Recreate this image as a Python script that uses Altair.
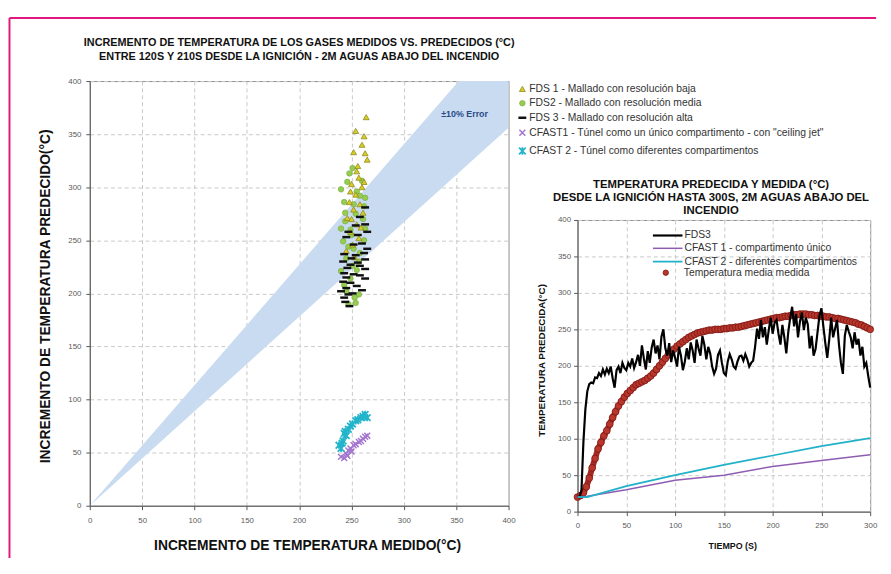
import altair as alt
import pandas as pd

FONT = "Liberation Sans"
MAGENTA = "#e2177f"
GRID = "#c8c8c8"
AXIS = "#555555"
LABEL = "#5a5a5a"

# ---------------- left chart: measured vs predicted (120 s - 210 s) ----------------
scatter_names = [
    "FDS 1 - Mallado con resolución baja",
    "FDS2 - Mallado con resolución media",
    "FDS 3 - Mallado con resolución alta",
    'CFAST1 - Túnel como un único compartimento - con "ceiling jet"',
    "CFAST 2 - Túnel como diferentes compartimentos",
]
scatter_fill = ["#d8cd22", "#98cc50", "#111111", "#a375cf", "#22b4ca"]
scatter_stroke = ["#8d8a22", "#72aa3c", "#111111", "#a375cf", "#22b4ca"]
scatter_shape = ["triangle-up", "circle", "stroke",
                 "M-1,-1L1,1M-1,1L1,-1",
                 "M-1,-1L1,1M-1,1L1,-1M0,-1.1L0,1.1"]
scatter_size = [36, 32, 64, 36, 45]
scatter_sw = [0.8, 0.6, 2.5, 1.5, 1.8]

fds1_x = [264, 254, 262, 252, 263, 256, 265, 257, 250, 260, 254, 248, 258, 252, 261, 246, 255, 249,
          257, 251, 245, 253, 260, 255, 262, 249, 259, 250]
fds1_y = [366, 353, 348, 333, 332, 320, 326, 309, 303, 300, 293, 286, 284, 279, 276, 271, 265, 258,
          252, 246, 240, 234, 340, 315, 305, 296, 262, 270]

fds2_x = [248, 260, 240, 263, 243, 254, 261, 240, 249, 263, 242, 252, 258, 245, 257, 240, 249, 245,
          257, 254, 247, 251, 244, 262, 255, 250, 251, 246, 258, 252, 244, 262, 247, 255, 243, 253]
fds2_y = [313, 306, 298, 290, 286, 275, 270, 261, 260, 261, 249, 242, 238, 233, 230, 221, 214, 202,
          199, 191, 190, 226, 268, 282, 296, 255, 318, 305, 292, 284, 276, 250, 244, 222, 208, 196]

fds3_x = [263, 263, 254, 265, 256, 245, 260, 252, 265, 243, 254, 263, 242, 249, 263, 243, 252, 263,
          242, 249, 245, 240, 251, 243, 248, 258, 258, 247, 262, 250, 256, 246, 258, 245, 255, 260,
          247, 244]
fds3_y = [281, 265, 264, 258, 255, 253, 247, 246, 242, 237, 236, 232, 230, 227, 223, 219, 218, 214,
          211, 210, 205, 202, 200, 196, 188, 226, 272, 258, 238, 233, 229, 224, 217, 215, 207, 203,
          199, 192]

cf1_x = [240, 243, 245, 247, 249, 252, 254, 257, 259, 261, 263, 265, 246, 250]
cf1_y = [46, 45, 49, 52, 54, 57, 58, 60, 61, 63, 65, 66, 47, 51]

cf2_x = [238, 240, 242, 243, 245, 247, 249, 251, 254, 256, 259, 261, 263, 265, 241, 244]
cf2_y = [57, 54, 61, 68, 66, 72, 75, 77, 80, 81, 83, 84, 86, 83, 59, 70]

# +/-10 % error band (read at the two ends)
band_x = [0, 400]
band_lo = [0, 356]
band_hi = [0, 454]

# ---------------- right chart: temperature vs time ----------------
line_names = ["FDS3", "CFAST 1 - compartimento único", "CFAST 2 - diferentes compartimentos"]
line_colors = ["#000000", "#8e5db3", "#21b1c8"]
line_widths = [2.2, 1.5, 1.8]
meas_name = "Temperatura media medida"

fds3_t = list(range(0, 301, 2))
fds3_T = [20, 21, 28, 95, 140, 165, 175, 177, 176, 184,
          183, 190, 186, 195, 188, 196, 190, 199, 183, 170,
          194, 199, 190, 204, 197, 194, 204, 199, 210, 197,
          205, 215, 200, 228, 210, 195, 220, 204, 225, 236,
          217, 228, 209, 240, 250, 224, 214, 231, 205, 221,
          211, 199, 226, 214, 194, 206, 224, 209, 232, 221,
          204, 236, 224, 214, 241, 229, 209, 226, 217, 199,
          189, 196, 215, 221, 204, 190, 187, 206, 216, 209,
          199, 196, 206, 213, 214, 207, 216, 209, 199, 204,
          207, 226, 251, 237, 263, 239, 253, 229, 249, 266,
          244, 259, 263, 244, 229, 256, 239, 217, 246, 266,
          281, 254, 271, 239, 261, 273, 249, 266, 257, 224,
          241, 214, 223, 246, 269, 279, 254, 231, 211, 236,
          266, 239, 251, 263, 229, 204, 189, 241, 256, 247,
          239, 224, 246, 229, 237, 214, 226, 199, 204, 186,
          170]

cfast_t = [0, 10, 50, 100, 150, 200, 250, 300]
cfast1_T = [20, 21, 30, 43, 50, 62, 70, 78]
cfast2_T = [20, 20, 35, 50, 64, 77, 90, 101]

meas_t = list(range(0, 301, 3))
meas_T = [20, 22, 26, 34, 46, 60, 73, 86, 95, 104,
          111, 120, 129, 137, 145, 151, 157, 162, 166, 170,
          174, 176, 178, 180, 183, 186, 190, 195, 200, 205,
          210, 215, 219, 223, 227, 230, 233, 236, 239, 241,
          243, 245, 246, 247, 248, 249, 249, 250, 250, 250,
          251, 251, 252, 252, 253, 253, 254, 255, 256, 257,
          258, 259, 260, 261, 262, 263, 264, 265, 266, 266,
          267, 268, 268, 269, 270, 270, 271, 271, 271, 270,
          270, 269, 269, 268, 268, 267, 267, 266, 265, 265,
          264, 263, 262, 261, 260, 259, 257, 256, 254, 252,
          250]

# ---------------- tables ----------------
draw_order = [3, 4, 1, 0, 2]
xs_all = [fds1_x, fds2_x, fds3_x, cf1_x, cf2_x]
ys_all = [fds1_y, fds2_y, fds3_y, cf1_y, cf2_y]
rows = []
for i in draw_order:
    for a, b in zip(xs_all[i], ys_all[i]):
        rows.append({"serie": scatter_names[i], "medido": a, "predicho": b})
sc_df = pd.DataFrame(rows)
band_df = pd.DataFrame({"medido": band_x, "lo": band_lo, "hi": band_hi})

lrows = []
for t, v in zip(fds3_t, fds3_T):
    lrows.append({"serie": line_names[0], "t": t, "T": v})
for t, v in zip(cfast_t, cfast1_T):
    lrows.append({"serie": line_names[1], "t": t, "T": v})
for t, v in zip(cfast_t, cfast2_T):
    lrows.append({"serie": line_names[2], "t": t, "T": v})
lines_df = pd.DataFrame(lrows)
meas_df = pd.DataFrame({"serie": meas_name, "t": meas_t, "T": meas_T})

# ---------------- axes ----------------
def axis(**kw):
    base = dict(labelFont=FONT, labelFontSize=8, labelColor=LABEL, tickColor=AXIS,
                tickSize=4, domainColor=AXIS, domainWidth=1, grid=True, gridColor=GRID,
                gridDash=[4, 3], gridWidth=1, titleFont=FONT, titleFontWeight="bold",
                titleColor="#111111", labelFlush=False, titleAlign="center",
                titleBaseline="middle")
    base.update(kw)
    return alt.Axis(**base)

t400 = [0, 50, 100, 150, 200, 250, 300, 350, 400]
t300 = [0, 50, 100, 150, 200, 250, 300]

W1, H1 = 425, 431
W2, H2 = 297, 296

ax_lx = axis(values=t400, title="INCREMENTO DE TEMPERATURA MEDIDO(°C)", titleFontSize=14,
             labelPadding=7, titleX=W1 / 2 + 8, titleY=40)
ax_ly = axis(values=t400, title="INCREMENTO DE TEMPERATURA PREDECIDO(°C)", titleFontSize=14,
             labelPadding=5, titleX=-45, titleY=218, titleAngle=270)
ax_rx = axis(values=t300, title="TIEMPO (S)", titleFontSize=9, labelPadding=6,
             titleX=157, titleY=34)
ax_ry = axis(values=t400, title="TEMPERATURA PREDECIDA(°C)", titleFontSize=10,
             labelPadding=3, titleX=-37, titleY=142, titleAngle=270)

xsc = alt.Scale(domain=[0, 400], nice=False)
ysc = alt.Scale(domain=[0, 400], nice=False)

# ---------------- left chart ----------------
leg_left = alt.Legend(title=None, orient="none", legendX=433.5, legendY=2.75, labelFont=FONT,
                      labelFontSize=10.5, labelColor="#333333", labelLimit=420, padding=0,
                      rowPadding=3.5, labelOffset=1.5)

band = alt.Chart(band_df).mark_area(color="#c9dbf1", opacity=1, clip=True).encode(
    x=alt.X("medido:Q", scale=xsc, axis=ax_lx),
    y=alt.Y("lo:Q", scale=ysc, axis=ax_ly),
    y2=alt.Y2("hi:Q"),
)

err_txt = alt.Chart(pd.DataFrame({"medido": [358], "predicho": [369], "txt": ["±10% Error"]})).mark_text(
    font=FONT, fontSize=9, fontWeight="bold", color="#2b4c86", align="center", baseline="middle"
).encode(
    x=alt.X("medido:Q", scale=xsc, axis=ax_lx),
    y=alt.Y("predicho:Q", scale=ysc, axis=ax_ly),
    text="txt:N",
)

points = alt.Chart(sc_df).mark_point(opacity=1).encode(
    x=alt.X("medido:Q", scale=xsc, axis=ax_lx),
    y=alt.Y("predicho:Q", scale=ysc, axis=ax_ly),
    shape=alt.Shape("serie:N", scale=alt.Scale(domain=scatter_names, range=scatter_shape), legend=leg_left),
    fill=alt.Fill("serie:N", scale=alt.Scale(domain=scatter_names, range=scatter_fill), legend=leg_left),
    stroke=alt.Stroke("serie:N", scale=alt.Scale(domain=scatter_names, range=scatter_stroke), legend=leg_left),
    size=alt.Size("serie:N", scale=alt.Scale(type="ordinal", domain=scatter_names, range=scatter_size),
                  legend=leg_left),
    strokeWidth=alt.StrokeWidth("serie:N", scale=alt.Scale(type="ordinal", domain=scatter_names,
                                                           range=scatter_sw), legend=leg_left),
)

left = alt.layer(band, points, err_txt).properties(
    width=W1, height=H1,
    title=alt.TitleParams(
        text=["INCREMENTO DE TEMPERATURA DE LOS GASES MEDIDOS VS. PREDECIDOS (°C)",
              "ENTRE 120S Y 210S DESDE LA IGNICIÓN - 2M AGUAS ABAJO DEL INCENDIO"],
        font=FONT, fontSize=11, fontWeight="bold", color="#111111", anchor="middle",
        frame="group", offset=15, lineHeight=15),
)

# ---------------- right chart ----------------
tsc = alt.Scale(domain=[0, 300], nice=False)
Tsc = alt.Scale(domain=[0, 400], nice=False)

leg_lines = alt.Legend(title=None, orient="none", legendX=85, legendY=9.25, labelFont=FONT,
                       labelFontSize=10.5, labelColor="#333333", labelLimit=300, padding=0,
                       rowPadding=1.5, symbolType="M-3,0L3,0", symbolSize=100, labelOffset=10.5)
leg_pt = alt.Legend(title=None, orient="none", legendX=84.3, legendY=48.25, labelFont=FONT,
                    labelFontSize=10.5, labelColor="#333333", labelLimit=300, padding=0,
                    symbolType="circle", symbolSize=30, symbolStrokeColor="#7a1712",
                    symbolStrokeWidth=0.8, labelOffset=13)

red_line = alt.Chart(meas_df).mark_line(color="#a52a26", strokeWidth=6).encode(
    x=alt.X("t:Q", scale=tsc, axis=ax_rx),
    y=alt.Y("T:Q", scale=Tsc, axis=ax_ry),
)
red_pts = alt.Chart(meas_df).mark_point(filled=True, size=48, opacity=1, stroke="#7a1712",
                                        strokeWidth=0.8).encode(
    x=alt.X("t:Q", scale=tsc, axis=ax_rx),
    y=alt.Y("T:Q", scale=Tsc, axis=ax_ry),
    fill=alt.Fill("serie:N", scale=alt.Scale(domain=[meas_name], range=["#b8362c"]), legend=leg_pt),
)
lines = alt.Chart(lines_df).mark_line().encode(
    x=alt.X("t:Q", scale=tsc, axis=ax_rx),
    y=alt.Y("T:Q", scale=Tsc, axis=ax_ry),
    color=alt.Color("serie:N", scale=alt.Scale(domain=line_names, range=line_colors), legend=leg_lines),
    strokeWidth=alt.StrokeWidth("serie:N", scale=alt.Scale(type="ordinal", domain=line_names,
                                                           range=line_widths), legend=leg_lines),
)

right = alt.layer(red_line, red_pts, lines).properties(
    width=W2, height=H2,
    title=alt.TitleParams(
        text=["TEMPERATURA PREDECIDA Y MEDIDA (°C)",
              "DESDE LA IGNICIÓN HASTA 300S, 2M AGUAS ABAJO DEL",
              "INCENDIO"],
        font=FONT, fontSize=11.5, fontWeight="bold", color="#111111", anchor="middle",
        frame="group", offset=0, lineHeight=13, dx=-13),
)

# spacer above the right chart; it also carries the magenta frame lines
one = pd.DataFrame({"k": [0]})
border_top = alt.Chart(one).mark_rule(color=MAGENTA, strokeWidth=2).encode(
    x=alt.value(-576.5), x2=alt.value(303), y=alt.value(-64))
border_left = alt.Chart(one).mark_rule(color=MAGENTA, strokeWidth=2).encode(
    x=alt.value(-576.5), y=alt.value(-64), y2=alt.value(484))
spacer = alt.layer(border_top, border_left).properties(
    width=10, height=141, view=alt.ViewBackground(stroke="transparent"))

right_col = alt.vconcat(spacer, right, spacing=0, bounds="flush").resolve_scale(
    fill="independent", strokeWidth="independent", color="independent")

chart = alt.hconcat(left, right_col, spacing=70, bounds="flush").resolve_scale(
    fill="independent", stroke="independent", strokeWidth="independent",
    color="independent", shape="independent", size="independent",
).properties(
    padding={"left": 0, "top": 4, "right": 0, "bottom": 0}
).configure(
    font=FONT, background="white"
).configure_view(
    stroke="#8c8c8c", strokeWidth=1
)

chart.save("out.html", embed_options={"renderer": "svg", "actions": False})
